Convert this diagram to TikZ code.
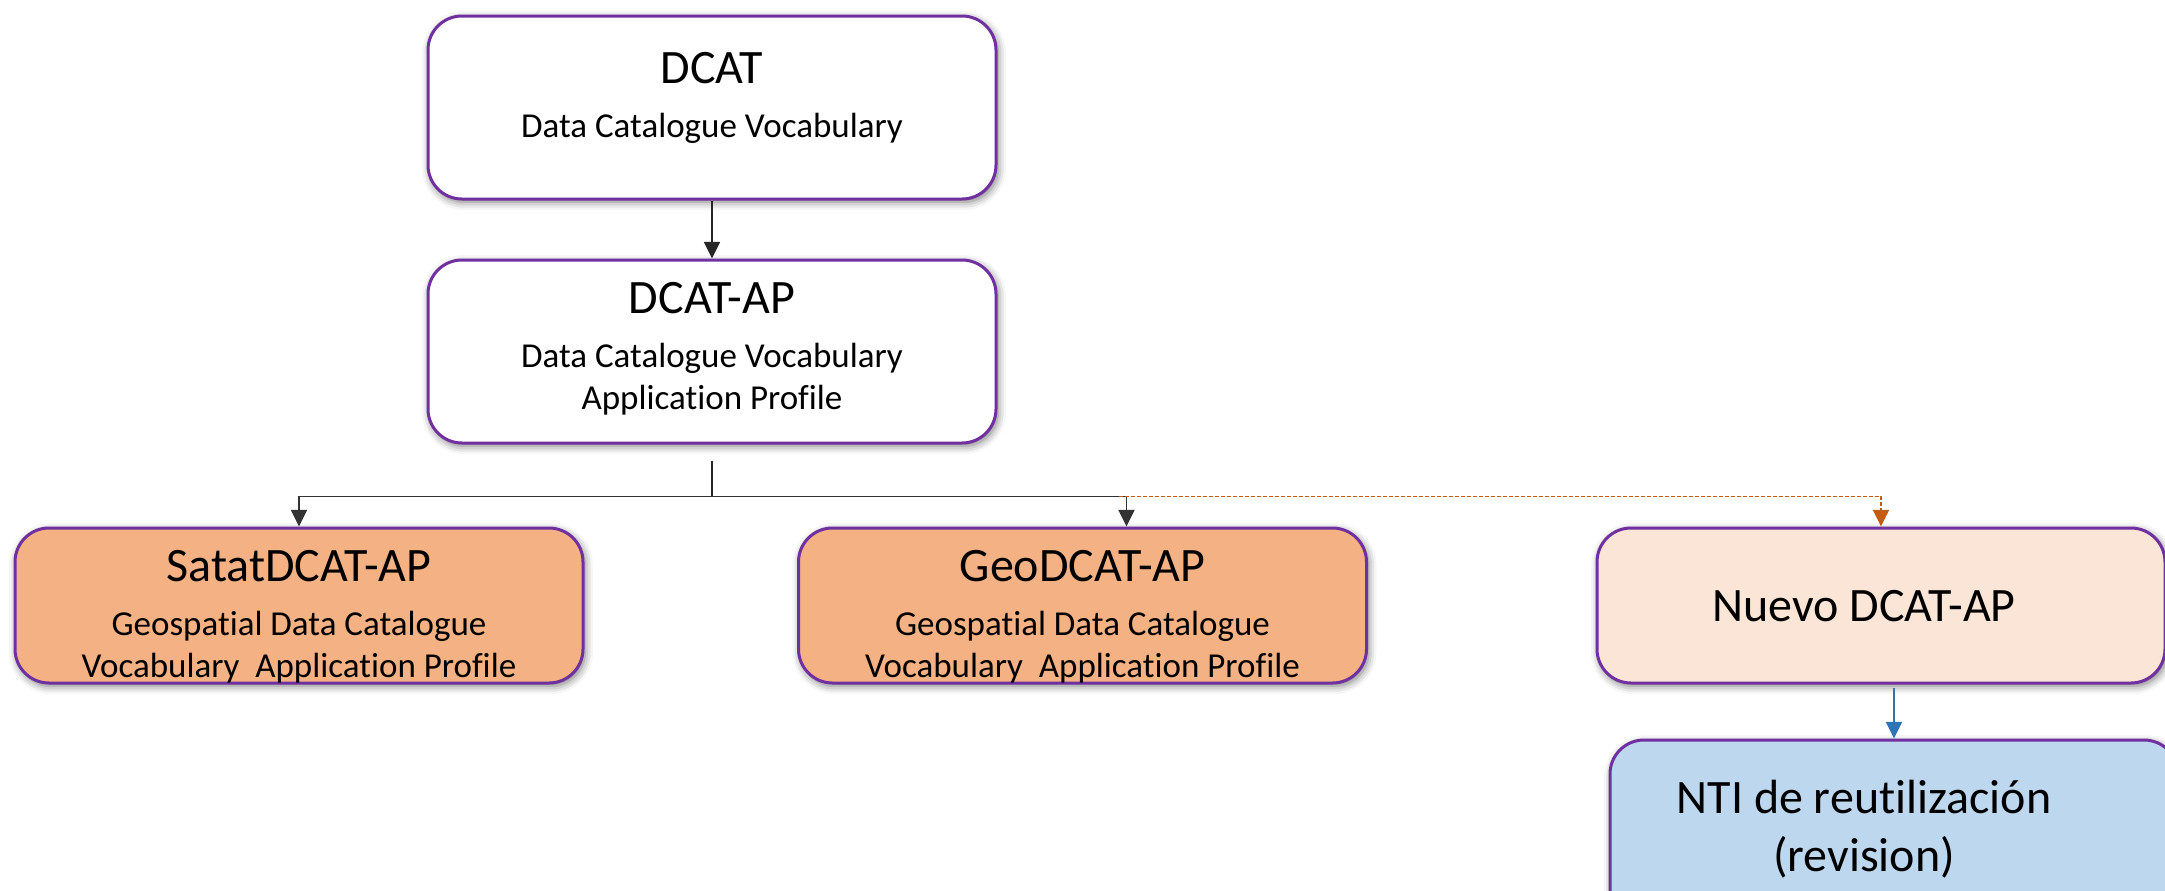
\documentclass[tikz,border=0pt]{standalone}
\usepackage{fontspec}
\setmainfont{Carlito}[Ligatures=NoCommon]
\usetikzlibrary{positioning,calc,arrows.meta,shadows.blur}

\definecolor{boxline}{HTML}{7030A0}
\definecolor{orangebox}{HTML}{F4B183}
\definecolor{palebox}{HTML}{FBE5D6}
\definecolor{bluebox}{HTML}{BDD7EE}
\definecolor{newlink}{HTML}{C55A11}
\definecolor{revlink}{HTML}{2E75B6}

\newcommand\boxtitle[1]{{\fontsize{24}{27}\selectfont #1}}

\begin{document}
\begin{tikzpicture}[x=0.5pt,y=-0.5pt]
  \useasboundingbox (0,0) rectangle (2165,890);
  \begin{scope}[
    every node/.style={
      draw=boxline,
      line width=1.5pt,
      rounded corners=17pt,
      minimum width=284pt,
      fill=white,
      blur shadow={shadow xshift=1pt,shadow yshift=-1.5pt,
        shadow blur radius=4pt,shadow opacity=55},
    },
    ]
    \node[minimum height=91.5pt] (dcat) at (712,107.5) {};
    \node[minimum height=91.5pt,below=29pt of dcat] (dcat-ap) {};
    \node[minimum height=77.5pt,fill=orangebox] (satat) at (299,605.5) {};
    \node[minimum height=77.5pt,fill=orangebox] (geo) at (1082.5,605.5) {};
    \node[minimum height=77.5pt,fill=palebox] (nuevo) at (1881,605.5) {};
    \node[minimum height=91.5pt,fill=bluebox] (nti) at (1894,831.5) {};
  \end{scope}
  \begin{scope}[
    every node/.style={
      align=center,
      anchor=center,
      font=\fontsize{17.5}{21}\selectfont,
    },
    ]
    \node (dcat-text) at ($(dcat)+(0,-9.5)$)
      {\boxtitle{DCAT}\\[6pt] Data Catalogue Vocabulary};
    \node (dcat-ap-text) at ($(dcat-ap)+(0,-3)$)
      {\boxtitle{DCAT-AP}\\[6pt] Data Catalogue Vocabulary\\ Application Profile};
    \node (satat-text) at ($(satat)+(0,11)$)
      {\boxtitle{SatatDCAT-AP}\\[6pt] Geospatial Data Catalogue\\ Vocabulary\ \ Application Profile};
    \node (geo-text) at ($(geo)+(0,11)$)
      {\boxtitle{GeoDCAT-AP}\\[6pt] Geospatial Data Catalogue\\ Vocabulary\ \ Application Profile};
    \node[font=\fontsize{24}{29}\selectfont] (nuevo-text) at ($(nuevo)+(-17,1)$)
      {Nuevo DCAT-AP};
    \node[font=\fontsize{24}{29}\selectfont] (nti-text) at ($(nti)+(-30,-2)$)
      {NTI de reutilización\\ (revision)};
  \end{scope}
  \coordinate (split) at ($(dcat-ap.south)+(0,52)$);
  \coordinate (geo-in) at ($(geo.north)+(44,0)$);
  \begin{scope}[
    every path/.style={draw,line width=0.9pt,>={Triangle[width=8pt,length=8.3pt]}},
    ]
    \path[->,black!85] (dcat) -- (dcat-ap);
    \path[black!85] ($(dcat-ap.south)+(0,16)$) -- (split);
    \path[->,black!80] (split) -| (satat.north);
    \path[->,black!80] (split) -| (geo-in);
    \path[->,newlink,dash pattern=on 2pt off 1pt] ($(split -| geo-in)+(-8,0)$) -| (nuevo.north);
    \path[->,revlink,line width=0.7pt] ($(nti.north |- nuevo.south)+(0,3)$) -- (nti.north);
  \end{scope}
\end{tikzpicture}
\end{document}
